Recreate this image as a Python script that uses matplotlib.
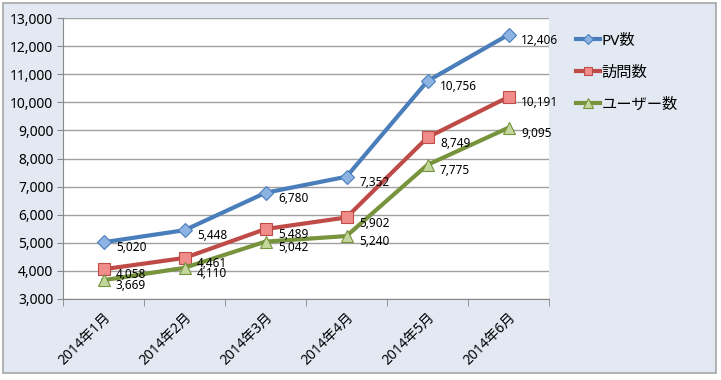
import matplotlib
matplotlib.use('Agg')
from matplotlib import pyplot as plt
from matplotlib.patches import Rectangle

plt.rcParams['font.family'] = ['Noto Sans', 'Noto Sans CJK JP', 'DejaVu Sans']

months = ['2014年1月', '2014年2月', '2014年3月', '2014年4月', '2014年5月', '2014年6月']
pv = [5020, 5448, 6780, 7352, 10756, 12406]
visits = [4058, 4461, 5489, 5902, 8749, 10191]
users = [3669, 4110, 5042, 5240, 7775, 9095]
names = ['PV数', '訪問数', 'ユーザー数']

fig = plt.figure(figsize=(7.21, 3.80), dpi=100)
fig.patch.set_facecolor('white')
# chart area background with border
fig.patches.append(Rectangle((3 / 721, 7 / 380), 713 / 721, 370 / 380, transform=fig.transFigure,
                             facecolor='#E3E9F3', edgecolor='#A6A6A6', linewidth=1.2, zorder=-5))

ax = fig.add_axes([63 / 721, 81 / 380, 486 / 721, 281 / 380])
ax.set_zorder(2)
ax.set_facecolor('white')

x = list(range(len(months)))
series = [
    (pv, '#4A7EBB', 'D', '#8DB3E2', 7),
    (visits, '#BE4B48', 's', '#F08C8A', 8),
    (users, '#77933C', '^', '#C3D69B', 9),
]
for (vals, col, mk, fc, ms), name in zip(series, names):
    ax.plot(x, vals, color=col, lw=3, marker=mk, markersize=ms, markerfacecolor=fc,
            markeredgecolor=col, markeredgewidth=0.8, label=name, zorder=3)
    for xi, v in zip(x, vals):
        ax.annotate(f'{v:,}', (xi, v), xytext=(9, -4), textcoords='offset points',
                    ha='left', va='center', fontsize=8.5, color='black', zorder=4)

ax.set_xlim(-0.5, 5.5)
ax.set_ylim(3000, 13000)
ax.set_yticks(range(3000, 13001, 1000))
ax.set_yticklabels([f'{v:,}' for v in range(3000, 13001, 1000)], fontsize=10)
ax.yaxis.grid(True, color='#A0A0A0', lw=1)
ax.set_axisbelow(True)

ax.set_xticks(x)
ax.set_xticklabels(months, rotation=45, ha='right', rotation_mode='anchor', fontsize=10)
ax.set_xticks([i - 0.5 for i in range(len(months) + 1)], minor=True)
ax.tick_params(axis='x', which='major', length=0, pad=8)
ax.tick_params(axis='x', which='minor', length=5, color='#888888')
ax.tick_params(axis='y', length=4, color='#888888', pad=3)

for s in ['top', 'right']:
    ax.spines[s].set_visible(False)
for s in ['left', 'bottom']:
    ax.spines[s].set_color('#888888')

leg = fig.legend(loc='upper left', bbox_to_anchor=(562 / 721, 1 - 20 / 380), frameon=False,
                 fontsize=11, handlelength=1.6, handletextpad=0.1, labelspacing=1.1,
                 markerscale=0.75)
leg.set_zorder(3)

fig.savefig('out.png', dpi=100)
